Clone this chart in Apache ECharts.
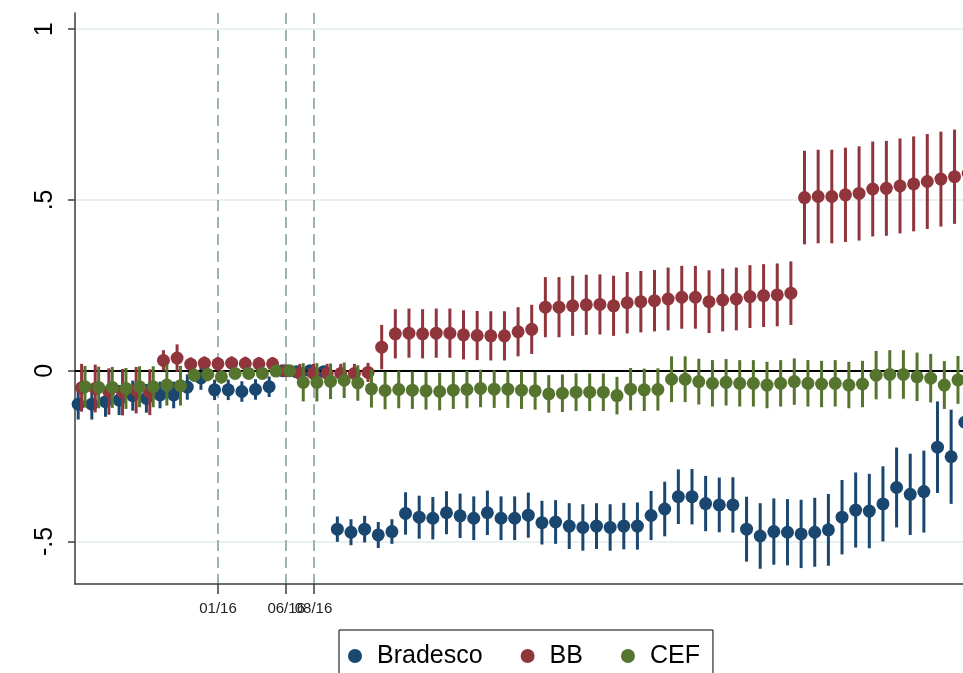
<!DOCTYPE html>
<html>
<head>
<meta charset="utf-8">
<title>Bradesco, BB, CEF</title>
<script src="https://cdn.jsdelivr.net/npm/echarts@6/dist/echarts.min.js"></script>
<style>
  html, body { margin: 0; padding: 0; background: #fff; }
  #chart { width: 963px; height: 673px; }
</style>
</head>
<body>
<div id="chart"></div>
<script>
// Months relative to 01/16 (0 = January 2016)
const monthIdx = [-10,-9,-8,-7,-6,-5,-4,-3,-2,-1,
  0,1,2,3,4,5,6,7,8,9,
  10,11,12,13,14,15,16,17,18,19,
  20,21,22,23,24,25,26,27,28,29,
  30,31,32,33,34,35,36,37,38,39,
  40,41,42,43,44,45,46,47,48,49,
  50,51,52,53,54,55];

// Point estimates
const bradescoCoef = [-0.098,-0.098,-0.091,-0.086,-0.073,-0.081,-0.071,-0.071,-0.048,-0.021,
  -0.056,-0.056,-0.061,-0.055,-0.047,0,-0.003,0.000,-0.003,-0.464,
  -0.473,-0.464,-0.481,-0.471,-0.418,-0.429,-0.432,-0.416,-0.425,-0.432,
  -0.416,-0.432,-0.432,-0.423,-0.445,-0.443,-0.455,-0.459,-0.455,-0.459,
  -0.455,-0.455,-0.424,-0.405,-0.369,-0.369,-0.389,-0.393,-0.393,-0.464,
  -0.484,-0.471,-0.473,-0.478,-0.473,-0.466,-0.429,-0.408,-0.411,-0.390,
  -0.342,-0.362,-0.354,-0.224,-0.252,-0.151];
const bbCoef = [-0.050,-0.052,-0.061,-0.063,-0.057,-0.063,0.030,0.037,0.019,0.022,
  0.020,0.022,0.021,0.020,0.020,0,-0.008,-0.008,-0.008,-0.008,
  -0.008,-0.005,0.069,0.108,0.110,0.108,0.110,0.110,0.105,0.103,
  0.102,0.102,0.114,0.121,0.186,0.186,0.190,0.193,0.194,0.190,
  0.199,0.202,0.205,0.210,0.215,0.215,0.202,0.207,0.210,0.217,
  0.220,0.222,0.227,0.507,0.510,0.510,0.515,0.519,0.532,0.534,
  0.541,0.547,0.554,0.561,0.568,0.578];
const cefCoef = [-0.047,-0.049,-0.049,-0.052,-0.047,-0.047,-0.042,-0.044,-0.013,-0.011,
  -0.018,-0.008,-0.008,-0.008,-0.001,0,-0.034,-0.034,-0.031,-0.028,
  -0.036,-0.053,-0.058,-0.055,-0.057,-0.059,-0.061,-0.057,-0.055,-0.052,
  -0.054,-0.054,-0.057,-0.059,-0.068,-0.066,-0.063,-0.063,-0.063,-0.073,
  -0.054,-0.056,-0.055,-0.025,-0.025,-0.032,-0.037,-0.034,-0.037,-0.037,
  -0.042,-0.037,-0.032,-0.037,-0.039,-0.037,-0.042,-0.039,-0.013,-0.011,
  -0.011,-0.018,-0.022,-0.042,-0.027,null];

// Half-widths of the 95% confidence intervals
const bradescoCI = [0.045,0.045,0.044,0.044,0.044,0.042,0.039,0.039,0.037,0.035,
  0.030,0.030,0.030,0.030,0.030,0,0.015,0.015,0.015,0.037,
  0.038,0.039,0.038,0.036,0.062,0.063,0.062,0.063,0.065,0.064,
  0.065,0.064,0.064,0.066,0.064,0.064,0.067,0.068,0.067,0.068,
  0.068,0.069,0.072,0.080,0.080,0.081,0.081,0.080,0.081,0.095,
  0.096,0.097,0.097,0.100,0.101,0.105,0.109,0.110,0.109,0.110,
  0.117,0.119,0.120,0.134,0.138,0.140];
const bbCI = [0.070,0.070,0.068,0.068,0.068,0.067,0.030,0.040,0.020,0.020,
  0.020,0.020,0.020,0.020,0.020,0,0.028,0.028,0.028,0.028,
  0.028,0.028,0.065,0.072,0.072,0.072,0.072,0.072,0.072,0.072,
  0.072,0.072,0.072,0.072,0.088,0.088,0.088,0.088,0.088,0.088,
  0.090,0.090,0.090,0.092,0.092,0.092,0.092,0.092,0.092,0.092,
  0.092,0.092,0.093,0.137,0.137,0.137,0.138,0.138,0.139,0.139,
  0.139,0.139,0.139,0.139,0.138,0.138];
const cefCI = [0.061,0.061,0.060,0.060,0.060,0.060,0.060,0.058,0.020,0.020,
  0.020,0.015,0.015,0.015,0.015,0,0.056,0.056,0.052,0.052,
  0.052,0.055,0.055,0.055,0.055,0.055,0.055,0.055,0.055,0.055,
  0.055,0.055,0.055,0.055,0.055,0.055,0.055,0.055,0.055,0.055,
  0.062,0.062,0.062,0.067,0.067,0.067,0.068,0.068,0.068,0.068,
  0.068,0.068,0.068,0.068,0.068,0.068,0.068,0.068,0.071,0.071,
  0.071,0.071,0.071,0.070,0.070,null];

// Axis ticks
const xTickValues = [0, 5, 7];
const xTickLabels = ['01/16', '06/16', '08/16'];
const yTickValues = [-0.5, 0, 0.5, 1];
const yTickLabels = ['-.5', '0', '.5', '1'];

const banks = [
  { name: 'Bradesco', coef: bradescoCoef, ci: bradescoCI, color: '#1a476f', shift: -0.25 },
  { name: 'BB',       coef: bbCoef,       ci: bbCI,       color: '#90353b', shift: 0 },
  { name: 'CEF',      coef: cefCoef,      ci: cefCI,      color: '#55752f', shift: 0.25 }
];

const FONT = '"Liberation Sans", Arial, Helvetica, sans-serif';
const X_MIN = -10.484;
const X_MAX = -10.484 + 925 / 13.64;

function spikeRenderer(color) {
  return function (params, api) {
    const x = api.value(0);
    const lo = api.value(1);
    const hi = api.value(2);
    if (isNaN(lo) || isNaN(hi) || lo === hi) return null;
    const p1 = api.coord([x, lo]);
    const p2 = api.coord([x, hi]);
    return {
      type: 'line',
      shape: { x1: p1[0], y1: p1[1], x2: p2[0], y2: p2[1] },
      style: { stroke: color, lineWidth: 3 }
    };
  };
}

function xLabel(v) {
  let i = -1;
  xTickValues.forEach(function (t, j) { if (Math.abs(t - v) < 1e-9) i = j; });
  return i >= 0 ? xTickLabels[i] : '';
}

const series = [];
banks.forEach(function (b, k) {
  const ciData = [];
  const ptData = [];
  monthIdx.forEach(function (m, i) {
    const c = b.coef[i];
    if (c === null || c === undefined) return;
    const h = b.ci[i] || 0;
    ciData.push([m + b.shift, c - h, c + h]);
    ptData.push([m + b.shift, c]);
  });
  series.push({
    name: b.name + ' IC',
    type: 'custom',
    renderItem: spikeRenderer(b.color),
    data: ciData,
    encode: { x: 0, y: [1, 2] },
    z: 3 + k * 2,
    silent: true,
    animation: false
  });
  series.push({
    name: b.name,
    type: 'scatter',
    data: ptData,
    symbol: 'circle',
    symbolSize: 13,
    itemStyle: { color: b.color, opacity: 1 },
    z: 4 + k * 2,
    silent: true,
    animation: false
  });
});

// Horizontal reference line at zero
series.push({
  name: 'zero',
  type: 'line',
  data: [],
  z: 2,
  silent: true,
  markLine: {
    silent: true,
    symbol: ['none', 'none'],
    label: { show: false },
    lineStyle: { color: '#000', width: 2, type: 'solid' },
    data: [{ yAxis: 0 }],
    animation: false
  }
});

const xLabelStyle = {
  show: true,
  hideOverlap: false,
  margin: 17,
  fontSize: 15,
  color: '#222',
  fontFamily: FONT,
  formatter: xLabel
};

const chart = echarts.init(document.getElementById('chart'), null, { renderer: 'canvas' });
chart.setOption({
  animation: false,
  backgroundColor: '#fff',
  textStyle: { fontFamily: FONT },
  grid: {
    left: 75,
    top: 13,
    bottom: 89,
    width: 925,
    containLabel: false,
    outerBoundsMode: 'none'
  },
  xAxis: [
    {
      type: 'value',
      min: X_MIN,
      max: X_MAX,
      axisLine: { show: true, onZero: false, lineStyle: { color: '#3c3c3c', width: 1.5 } },
      axisTick: { show: true, customValues: xTickValues, length: 10, lineStyle: { color: '#3c3c3c', width: 1.5 } },
      axisLabel: Object.assign({ customValues: xTickValues.slice(0, 2) }, xLabelStyle),
      splitLine: { show: true, lineStyle: { color: '#7d9e93', width: 1.5, type: [11, 6] } }
    },
    {
      // second label row for the August tick, which sits right next to June
      type: 'value',
      position: 'bottom',
      min: X_MIN,
      max: X_MAX,
      axisLine: { show: false },
      axisTick: { show: false, customValues: xTickValues.slice(2) },
      axisLabel: Object.assign({ customValues: xTickValues.slice(2) }, xLabelStyle),
      splitLine: { show: false }
    }
  ],
  yAxis: {
    type: 'value',
    min: -0.6246,
    max: 1.0474,
    axisLine: { show: true, onZero: false, lineStyle: { color: '#3c3c3c', width: 1.5 } },
    axisTick: { show: true, customValues: yTickValues, length: 7, lineStyle: { color: '#3c3c3c', width: 1.5 } },
    axisLabel: {
      show: true,
      customValues: yTickValues,
      rotate: 90,
      margin: 17,
      fontSize: 25,
      color: '#000',
      fontFamily: FONT,
      formatter: function (v) {
        let i = -1;
        yTickValues.forEach(function (t, j) { if (Math.abs(t - v) < 1e-9) i = j; });
        return i >= 0 ? yTickLabels[i] : '';
      }
    },
    splitLine: { show: true, lineStyle: { color: '#e8f0f2', width: 2 } }
  },
  legend: {
    show: true,
    data: ['Bradesco', 'BB', 'CEF'],
    left: 339,
    top: 630,
    orient: 'horizontal',
    icon: 'circle',
    itemWidth: 14,
    itemHeight: 14,
    itemGap: 38,
    padding: [10, 13, 12, 9],
    borderColor: '#000',
    borderWidth: 1,
    backgroundColor: '#fff',
    selectedMode: false,
    textStyle: { fontSize: 25, color: '#000', fontFamily: FONT, padding: [0, 0, 0, 10], lineHeight: 32 }
  },
  series: series
});
</script>
</body>
</html>
